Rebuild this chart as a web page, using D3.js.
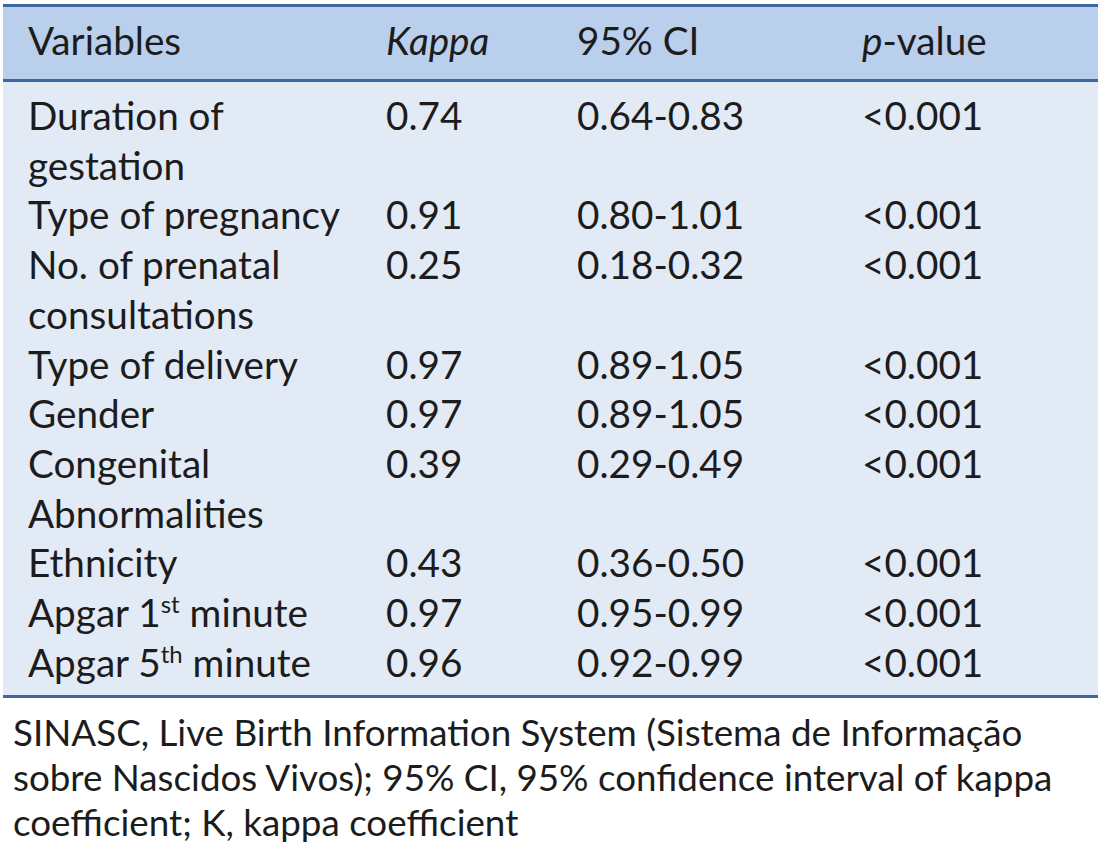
<!DOCTYPE html>
<html><head><meta charset="utf-8">
<script src="https://cdn.jsdelivr.net/npm/d3@7"></script>
<style>html,body{margin:0;padding:0;background:#fff;}</style>
</head><body>
<svg id="chart" width="1098" height="858"></svg>
<script>
const headers = ["Variables", "Kappa", "95% CI", "p-value"];
const variables = [
  ["Duration of", "gestation"],
  ["Type of pregnancy"],
  ["No. of prenatal", "consultations"],
  ["Type of delivery"],
  ["Gender"],
  ["Congenital", "Abnormalities"],
  ["Ethnicity"],
  ["Apgar 1|st| minute"],
  ["Apgar 5|th| minute"]
];
const kappa = ["0.74", "0.91", "0.25", "0.97", "0.97", "0.39", "0.43", "0.97", "0.96"];
const ci = ["0.64-0.83", "0.80-1.01", "0.18-0.32", "0.89-1.05", "0.89-1.05", "0.29-0.49", "0.36-0.50", "0.95-0.99", "0.92-0.99"];
const pvalue = ["<0.001", "<0.001", "<0.001", "<0.001", "<0.001", "<0.001", "<0.001", "<0.001", "<0.001"];
const footnote = [
  "SINASC, Live Birth Information System (Sistema de Informação",
  "sobre Nascidos Vivos); 95% CI, 95% confidence interval of kappa",
  "coefficient; K, kappa coefficient"
];

const svg = d3.select("#chart");
const W = 1098;
const lineColor = "#3f68a3";
const headBg = "#b9cfeb";
const bodyBg = "#e2eaf6";
const textColor = "#1c1c1c";
const font = "Lato, 'Open Sans', sans-serif";

const left = 3;
const colX = d3.scaleOrdinal().domain(headers).range([28, 386, 577, 862]);

const firstBase = 130;
const lineH = 49.7;
const yLine = d3.scaleLinear().domain([0, 1]).range([firstBase, firstBase + lineH]);

// backgrounds
svg.append("rect").attr("x", left).attr("y", 6).attr("width", W - left).attr("height", 75).attr("fill", headBg);
svg.append("rect").attr("x", left).attr("y", 81).attr("width", W - left).attr("height", 615).attr("fill", bodyBg);
// rules
[5.5, 80.5, 696.5].forEach(y => {
  svg.append("line").attr("x1", left).attr("x2", W).attr("y1", y).attr("y2", y)
    .attr("stroke", lineColor).attr("stroke-width", 3);
});

function fitSize(text, family, target) {
  const t = svg.append("text").attr("font-family", family).attr("font-size", 100).text(text);
  const w = t.node().getComputedTextLength();
  t.remove();
  return 100 * target / w;
}
const fs = fitSize("Type of pregnancy", font, 312);
const ffs = fitSize(footnote[0], font, 1010);

// header
const hd = svg.append("g").attr("font-family", font).attr("font-size", fs).attr("fill", textColor);
const ht = hd.selectAll("text").data(headers).join("text")
  .attr("x", d => colX(d)).attr("y", 55);
ht.each(function(d) {
  const s = d3.select(this);
  if (d === "Kappa") s.append("tspan").attr("font-style", "italic").text("Kappa");
  else if (d === "p-value") { s.append("tspan").attr("font-style", "italic").text("p"); s.append("tspan").text("-value"); }
  else s.text(d);
});

// body
const rows = variables.map((v, i) => ({ v, k: kappa[i], c: ci[i], p: pvalue[i] }));
let idx = 0;
rows.forEach(r => { r.start = idx; idx += r.v.length; });

const body = svg.append("g").attr("font-family", font).attr("font-size", fs).attr("fill", textColor);
const rg = body.selectAll("g.row").data(rows).join("g").attr("class", "row");
rg.each(function(r) {
  const g = d3.select(this);
  r.v.forEach((line, j) => {
    const t = g.append("text").attr("x", colX("Variables")).attr("y", yLine(r.start + j));
    const parts = line.split("|");
    if (parts.length === 3) {
      t.append("tspan").text(parts[0]);
      t.append("tspan").attr("font-size", fs * 0.62).attr("dy", -fs * 0.36).text(parts[1]);
      t.append("tspan").attr("dy", fs * 0.36).text(" " + parts[2].trim());
    } else t.text(line);
  });
  const y = yLine(r.start);
  g.append("text").attr("x", colX("Kappa")).attr("y", y).text(r.k);
  g.append("text").attr("x", colX("95% CI")).attr("y", y).text(r.c);
  g.append("text").attr("x", colX("p-value")).attr("y", y).text(r.p);
});

// footnote
svg.append("g").attr("font-family", font).attr("font-size", ffs).attr("fill", textColor)
  .selectAll("text").data(footnote).join("text")
  .attr("x", 13).attr("y", (d, i) => 746 + i * 45).text(d => d);
</script>
</body></html>
